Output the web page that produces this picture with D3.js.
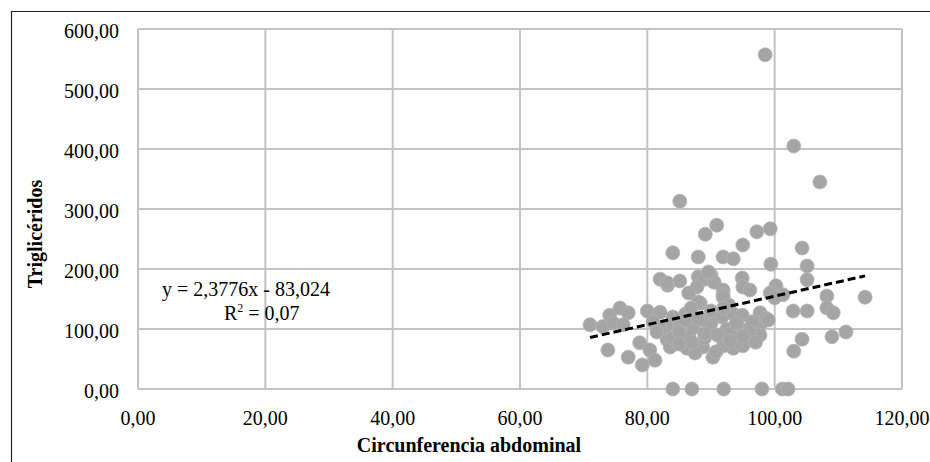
<!DOCTYPE html>
<html>
<head>
<meta charset="utf-8">
<script src="https://cdn.jsdelivr.net/npm/d3@7"></script>
<style>
  body { margin: 0; background: #fff; }
  text { font-family: "Liberation Serif", "Times New Roman", serif; fill: #000; }
</style>
</head>
<body>
<svg id="chart" width="930" height="462"></svg>
<script>
// circunferencia abdominal (x) and triglicéridos (y)
const circ = [
  98.5, 103.0, 107.1, 85.1, 90.9, 89.1, 99.3, 97.2, 95.0, 104.3, 84.0, 88.0, 91.9, 93.5, 99.4, 105.1,
  82.0, 83.2, 85.1, 88.0, 89.0, 90.0, 90.5, 87.8, 91.9, 94.9, 95.0, 96.1, 105.1, 100.2, 99.3, 101.3,
  100.0, 108.2, 114.2, 91.9, 88.3, 88.0, 91.9, 86.5, 83.1, 89.6, 92.8,
  71.0, 73.0, 74.1, 75.7, 77.0, 74.6, 76.2, 80.0, 82.0, 80.9, 84.0, 86.0, 91.7, 93.5, 94.9, 97.7,
  102.9, 105.1, 108.2, 109.2, 97.7, 85.1, 87.2, 89.8, 95.0, 92.5, 90.0, 83.0, 96.5, 88.5, 98.6, 86.9,
  73.8, 77.0, 79.2, 78.8, 80.4, 81.2, 83.1, 83.6, 86.2, 88.7, 90.3, 91.9, 94.1, 96.1, 93.5, 84.0,
  111.2, 109.0, 104.3, 103.0, 97.7, 86.5, 89.0, 92.0, 95.0, 87.5, 85.0, 82.0, 94.0, 90.8, 93.0,
  86.0, 88.0, 90.0, 92.0, 94.0, 96.0, 89.0, 91.0, 93.0, 95.0, 97.0, 87.0, 85.0, 99.0, 81.5,
  84.0, 87.0, 92.0, 98.0, 101.2, 102.1
];
const trig = [
  557, 405, 345, 313, 273, 258, 267, 262, 240, 235, 227, 220, 220, 217, 208, 205,
  183, 173, 180, 187, 183, 190, 178, 170, 165, 185, 170, 165, 182, 172, 160, 157,
  152, 155, 153, 157, 143, 145, 153, 160, 177, 195, 140,
  107, 104, 123, 135, 127, 110, 107, 130, 128, 112, 120, 125, 120, 125, 123, 127,
  130, 130, 135, 127, 107, 103, 102, 98, 98, 100, 110, 105, 112, 115, 118, 135,
  65, 53, 40, 77, 65, 48, 82, 70, 68, 70, 53, 82, 85, 82, 68, 85,
  95, 87, 83, 63, 90, 88, 85, 72, 72, 60, 95, 100, 78, 62, 92,
  115, 118, 130, 135, 110, 95, 92, 90, 80, 88, 78, 78, 75, 115, 95,
  0, 0, 0, 0, 0, 0
];
const xTicks = [0, 20, 40, 60, 80, 100, 120];
const yTicks = [0, 100, 200, 300, 400, 500, 600];
const slope = 2.3776, intercept = -83.024, rSquared = 0.07;

const svg = d3.select('#chart');
const plotLeft = 138, plotRight = 902, plotTop = 29, plotBottom = 389;

const locale = d3.formatLocale({ decimal: ',', thousands: '.', grouping: [3], currency: ['', ''] });
const fmt = locale.format('.2f');

const x = d3.scaleLinear().domain([0, 120]).range([plotLeft, plotRight]);
const y = d3.scaleLinear().domain([0, 600]).range([plotBottom, plotTop]);

// outer chart frame (only top and left edges are in view)
svg.append('path')
  .attr('d', 'M11.5,462 V11.5 H930')
  .attr('fill', 'none')
  .attr('stroke', '#222')
  .attr('stroke-width', 1.2);

// gridlines
const grid = svg.append('g');
grid.selectAll('.vg').data(xTicks).join('line')
  .attr('x1', (d) => x(d)).attr('x2', (d) => x(d))
  .attr('y1', plotTop).attr('y2', plotBottom)
  .attr('stroke', '#c3c3c3').attr('stroke-width', 2);
grid.selectAll('.hg').data(yTicks).join('line')
  .attr('x1', plotLeft).attr('x2', plotRight)
  .attr('y1', (d) => y(d)).attr('y2', (d) => y(d))
  .attr('stroke', '#c3c3c3').attr('stroke-width', 2);

// tick labels
svg.append('g').selectAll('text').data(yTicks).join('text')
  .attr('x', plotLeft - 19)
  .attr('y', (d) => y(d) + 9)
  .attr('text-anchor', 'end')
  .attr('font-size', 20)
  .text((d) => fmt(d));

svg.append('g').selectAll('text').data(xTicks).join('text')
  .attr('x', (d) => x(d))
  .attr('y', plotBottom + 36)
  .attr('text-anchor', 'middle')
  .attr('font-size', 20)
  .text((d) => fmt(d));

// axis titles
svg.append('text')
  .attr('x', 469).attr('y', 452)
  .attr('text-anchor', 'middle')
  .attr('font-size', 20)
  .attr('font-weight', 'bold')
  .text('Circunferencia abdominal');

svg.append('text')
  .attr('transform', 'translate(42,234) rotate(-90)')
  .attr('text-anchor', 'middle')
  .attr('font-size', 20)
  .attr('font-weight', 'bold')
  .text('Triglicéridos');

// points
const pts = circ.map((c, i) => ({ c, t: trig[i] }));
svg.append('g').selectAll('circle').data(pts).join('circle')
  .attr('cx', (d) => x(d.c))
  .attr('cy', (d) => y(d.t))
  .attr('r', 7)
  .attr('fill', '#a5a5a5')
  .attr('stroke', '#b4b4b4')
  .attr('stroke-width', 0.8);

// linear trendline over the data range
const [xMin, xMax] = d3.extent(circ);
svg.append('line')
  .attr('x1', x(xMin)).attr('y1', y(slope * xMin + intercept))
  .attr('x2', x(xMax)).attr('y2', y(slope * xMax + intercept))
  .attr('stroke', '#000')
  .attr('stroke-width', 3)
  .attr('stroke-dasharray', '8,4');

// equation label
const lbl = svg.append('g').attr('font-size', 20);
lbl.append('text')
  .attr('x', 162).attr('y', 296)
  .text(`y = ${locale.format('.4f')(slope)}x - ${locale.format('.3f')(-intercept)}`);
const r2 = lbl.append('text').attr('x', 224).attr('y', 320);
r2.append('tspan').text('R');
r2.append('tspan').attr('dy', -8).attr('font-size', 12).text('2');
r2.append('tspan').attr('dy', 8).text(` = ${fmt(rSquared)}`);
</script>
</body>
</html>
